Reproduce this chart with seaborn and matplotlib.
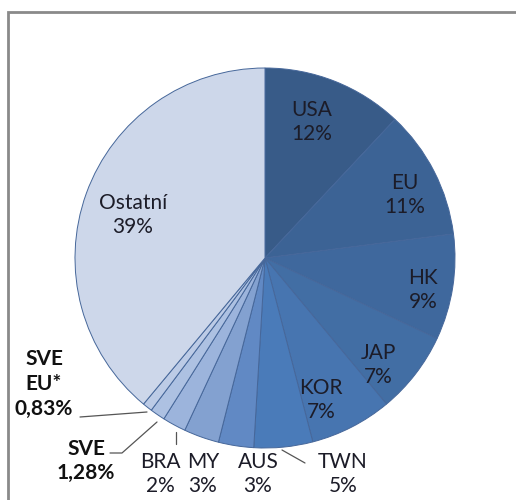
import matplotlib
matplotlib.use("Agg")
import matplotlib.pyplot as plt
import seaborn as sns
from matplotlib.patches import Rectangle

# Data (share in %)
countries = ['USA', 'EU', 'HK', 'JAP', 'KOR', 'TWN', 'AUS', 'MY', 'BRA', 'SVE', 'SVE\nEU*', 'Ostatní']
shares = [12, 11, 9, 7, 7, 5, 3, 3, 2, 1.28, 0.83, 39]
share_labels = ['12%', '11%', '9%', '7%', '7%', '5%', '3%', '3%', '2%', '1,28%', '0,83%', '39%']
colors = ['#385b88', '#3c6395', '#3f689d', '#426ea4', '#4775b0', '#4a7bb9', '#6189c4',
          '#83a1d0', '#9cb4dc', '#adc1e2', '#bccbe6', '#cdd7ea']

sns.set_theme(style='white')
plt.rcParams['font.family'] = ['Lato', 'DejaVu Sans']

fig = plt.figure(figsize=(5.16, 5.0), dpi=100)
ax = fig.add_axes([0, 0, 1, 1])

# frame (only top and left edges visible)
ax.add_patch(Rectangle((8, -20), 600, 508, fill=False, edgecolor='#8a8a8a', linewidth=2))

cx, cy, r = 265, 242, 190
ax.pie(shares, colors=colors, startangle=90, counterclock=False,
       center=(cx, cy), radius=r, frame=True,
       wedgeprops=dict(edgecolor='#46679a', linewidth=0.7))
ax.set_xlim(0, 516)
ax.set_ylim(0, 500)
ax.set_axis_off()

txt = '#1c1c28'
fs = 15
# label centres in pixel space, y measured from top
inside = {'USA': (312, 122), 'EU': (405, 195), 'HK': (423, 290),
          'JAP': (378, 365), 'KOR': (321, 400), 'Ostatní': (133, 215)}
outside = {'TWN': (343, 474), 'AUS': (258, 474), 'MY': (203, 474), 'BRA': (160, 474)}

for name, lab in zip(countries, share_labels):
    pos = inside.get(name) or outside.get(name)
    if pos:
        x, y = pos
        ax.text(x, 500 - y, f'{name}\n{lab}', ha='center', va='center', fontsize=fs,
                color=txt, linespacing=1.2)

# bold small-slice labels
ax.text(86, 500 - 461, 'SVE\n1,28%', ha='center', va='center', fontsize=fs,
        fontweight='bold', color='#111111', linespacing=1.3)
ax.text(44, 500 - 384, 'SVE\nEU*\n0,83%', ha='center', va='center', fontsize=fs,
        fontweight='bold', color='#111111', linespacing=1.3)

# leader lines
lc = '#555555'
ax.plot([80, 147], [500 - 417, 500 - 412], color=lc, lw=0.9)
ax.plot([110, 122, 157], [500 - 453, 500 - 453, 500 - 422], color=lc, lw=0.9)
ax.plot([176, 176], [500 - 432, 500 - 444], color=lc, lw=0.9)
ax.plot([282, 305], [500 - 450, 500 - 463], color=lc, lw=0.9)

fig.savefig('out.png', dpi=100)
